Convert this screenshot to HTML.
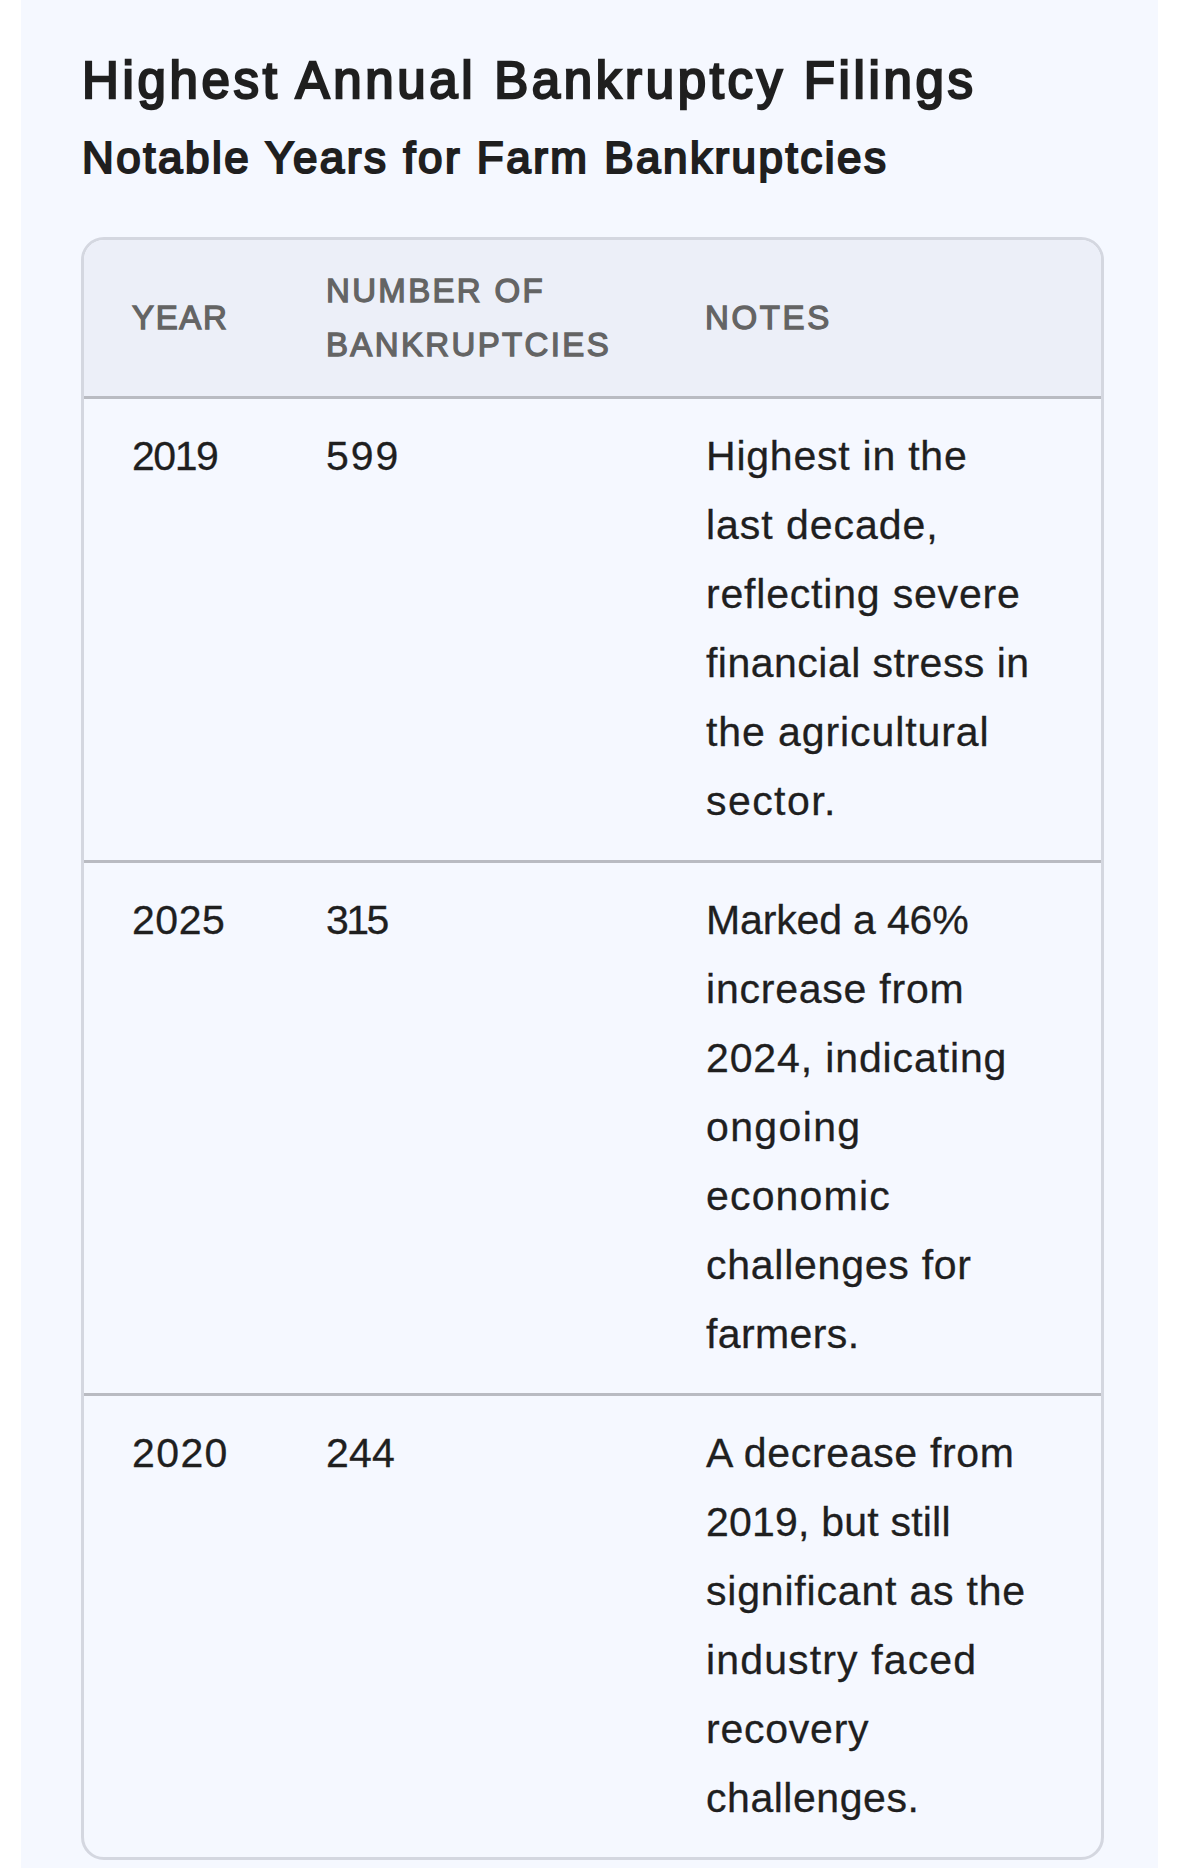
<!DOCTYPE html>
<html lang="en">
<head>
<meta charset="utf-8">
<title>Highest Annual Bankruptcy Filings</title>
<style>
html,body{margin:0;padding:0;background:#ffffff;}
body{width:1179px;height:1868px;overflow:hidden;position:relative;font-family:"Liberation Sans",Arial,sans-serif;color:#1f1f1f;}
.card{position:absolute;left:21px;top:0;width:1137px;height:1868px;background:#f5f8ff;}
h2,h3{margin:0;position:absolute;left:82px;white-space:nowrap;font-weight:normal;color:#1f1f1f;}
h2{top:48.5px;font-size:51px;line-height:64px;-webkit-text-stroke:2.3px #1f1f1f;}
h3{top:130px;font-size:44px;line-height:56px;-webkit-text-stroke:2.1px #1f1f1f;}
.tbl{position:absolute;left:81px;top:237px;width:1017px;height:1617px;border:3px solid #d4d7e0;border-radius:23px;overflow:hidden;}
table{border-collapse:separate;border-spacing:0;table-layout:fixed;width:1017px;}
th,td{text-align:left;vertical-align:top;padding:0 48px;white-space:nowrap;}
th{background:#eceff8;color:#646464;font-size:33px;line-height:54px;font-weight:normal;-webkit-text-stroke:1.3px #646464;height:156px;vertical-align:middle;border-bottom:3px solid #b9bbc2;}
td{font-size:41px;line-height:69px;-webkit-text-stroke:0.3px #1f1f1f;padding-top:23px;border-bottom:3px solid #b9bbc2;}
tr:last-child td{border-bottom:none;}
th:nth-child(2),td:nth-child(2){padding-left:47px;}
td:nth-child(3){padding-left:47px;}
th:nth-child(3){padding-left:46px;}
th span{display:inline-block;transform-origin:0 50%;}
</style>
</head>
<body>
<div class="card"></div>
<h2><span id="t" style="letter-spacing:3.66px">Highest Annual Bankruptcy Filings</span></h2>
<h3><span id="s" style="letter-spacing:2.50px">Notable Years for Farm Bankruptcies</span></h3>
<div class="tbl">
<table>
<colgroup><col style="width:195px"><col style="width:380px"><col style="width:442px"></colgroup>
<thead>
<tr><th><span id="h1" style="letter-spacing:1.67px">YEAR</span></th><th><span id="h2a" style="letter-spacing:2.33px">NUMBER OF</span><br><span id="h2b" style="letter-spacing:2.36px">BANKRUPTCIES</span></th><th><span id="h3" style="letter-spacing:2.65px">NOTES</span></th></tr>
</thead>
<tbody>
<tr style="height:464px"><td><span id="a1" style="letter-spacing:-1.47px">2019</span></td><td><span id="b1" style="letter-spacing:2.00px">599</span></td><td><span id="r1l1" style="letter-spacing:0.77px">Highest in the</span><br><span id="r1l2" style="letter-spacing:0.96px">last decade,</span><br><span id="r1l3" style="letter-spacing:0.81px">reflecting severe</span><br><span id="r1l4" style="letter-spacing:0.48px">financial stress in</span><br><span id="r1l5" style="letter-spacing:0.91px">the agricultural</span><br><span id="r1l6" style="letter-spacing:1.43px">sector.</span></td></tr>
<tr style="height:533px"><td><span id="a2" style="letter-spacing:0.53px">2025</span></td><td><span id="b2" style="letter-spacing:-2.50px">315</span></td><td><span id="r2l1" style="letter-spacing:-0.15px">Marked a 46%</span><br><span id="r2l2" style="letter-spacing:0.77px">increase from</span><br><span id="r2l3" style="letter-spacing:0.88px">2024, indicating</span><br><span id="r2l4" style="letter-spacing:1.37px">ongoing</span><br><span id="r2l5" style="letter-spacing:1.17px">economic</span><br><span id="r2l6" style="letter-spacing:0.75px">challenges for</span><br><span id="r2l7" style="letter-spacing:0.40px">farmers.</span></td></tr>
<tr style="height:461px"><td><span id="a3" style="letter-spacing:1.40px">2020</span></td><td><span id="b3" style="letter-spacing:0.20px">244</span></td><td><span id="r3l1" style="letter-spacing:0.67px">A decrease from</span><br><span id="r3l2" style="letter-spacing:0.21px">2019, but still</span><br><span id="r3l3" style="letter-spacing:0.81px">significant as the</span><br><span id="r3l4" style="letter-spacing:1.14px">industry faced</span><br><span id="r3l5" style="letter-spacing:0.77px">recovery</span><br><span id="r3l6" style="letter-spacing:0.54px">challenges.</span></td></tr>
</tbody>
</table>
</div>
</body>
</html>
